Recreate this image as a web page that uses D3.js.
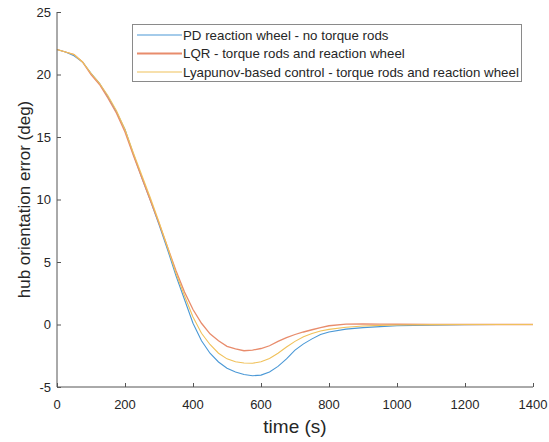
<!DOCTYPE html>
<html>
<head>
<meta charset="utf-8">
<script src="https://cdn.jsdelivr.net/npm/d3@7"></script>
<style>
  body { margin: 0; background: #fff; }
  text { font-family: 'Liberation Sans', Arial, sans-serif; fill: #262626; }
</style>
</head>
<body>
<svg id="chart" width="549" height="442"></svg>
<script>
// sample times (s)
const time = [0, 25, 50, 75, 100, 125, 150, 175, 200, 225, 250, 275, 300, 325, 350, 375,
  400, 425, 450, 475, 500, 525, 550, 575, 600, 625, 650, 675, 700, 725, 750, 775, 800,
  850, 900, 950, 1000, 1100, 1200, 1300, 1400]

// hub orientation error (deg)
const pdWheel = [22.0, 21.8, 21.5, 21.0, 20.1, 19.3, 18.2, 17.0, 15.6, 13.6, 11.7, 9.9, 8.0, 6.0, 3.9, 2.0,
  0.1, -1.3, -2.3, -3.0, -3.5, -3.8, -4.0, -4.1, -4.05, -3.8, -3.35, -2.75, -2.05, -1.55, -1.15, -0.8, -0.6,
  -0.37, -0.25, -0.17, -0.1, -0.05, -0.02, 0, 0]
const lqr = [22.0, 21.8, 21.6, 21.0, 20.0, 19.2, 18.1, 16.9, 15.4, 13.5, 11.7, 9.9, 8.1, 6.2, 4.3, 2.6,
  1.2, 0.1, -0.75, -1.3, -1.75, -1.95, -2.1, -2.05, -1.92, -1.7, -1.35, -1.05, -0.8, -0.6, -0.42, -0.25, -0.1,
  0.03, 0.05, 0.03, 0.02, 0, 0, 0, 0]
const lyapunov = [22.0, 21.8, 21.6, 21.0, 20.1, 19.3, 18.3, 17.1, 15.6, 13.7, 11.9, 10.1, 8.2, 6.2, 4.1, 2.3,
  0.6, -0.7, -1.6, -2.3, -2.75, -2.98, -3.08, -3.1, -2.98, -2.72, -2.3, -1.8, -1.35, -0.98, -0.72, -0.52, -0.39,
  -0.22, -0.12, -0.07, -0.04, -0.01, 0, 0, 0]

const seriesNames = ['PD reaction wheel - no torque rods',
  'LQR - torque rods and reaction wheel',
  'Lyapunov-based control - torque rods and reaction wheel']
const xTicks = [0, 200, 400, 600, 800, 1000, 1200, 1400]
const yTicks = [-5, 0, 5, 10, 15, 20, 25]

const colors = ['#4a98d6', '#e88c6c', '#f0c15a']
const widths = [1.1, 1.3, 1.1]

const svg = d3.select('#chart')
const x = d3.scaleLinear().domain([0, 1400]).range([57, 533])
const y = d3.scaleLinear().domain([-5, 25]).range([387, 12])

const series = [pdWheel, lqr, lyapunov]
const line = d3.line()
  .x((d, i) => x(time[i]))
  .y((d) => y(d))

svg.selectAll('path.series')
  .data(series)
  .enter()
  .append('path')
  .attr('class', 'series')
  .attr('fill', 'none')
  .attr('stroke', (d, i) => colors[i])
  .attr('stroke-width', (d, i) => widths[i])
  .attr('d', line)

// axes, ticks inward like matlab
const gx = svg.append('g').attr('transform', 'translate(0,' + y(-5) + ')')
  .call(d3.axisTop(x).tickValues(xTicks).tickSize(4).tickFormat(''))
gx.select('.domain').remove()
gx.selectAll('line').attr('stroke', '#555')
gx.append('line').attr('x1', x(0)).attr('x2', x(1400)).attr('stroke', '#555')
svg.selectAll('text.xt')
  .data(xTicks)
  .enter()
  .append('text')
  .attr('class', 'xt')
  .attr('x', (d) => x(d))
  .attr('y', y(-5) + 22)
  .attr('text-anchor', 'middle')
  .attr('font-size', 13)
  .text((d) => d)

const gy = svg.append('g').attr('transform', 'translate(' + x(0) + ',0)')
  .call(d3.axisRight(y).tickValues(yTicks).tickSize(4).tickFormat(''))
gy.select('.domain').remove()
gy.selectAll('line').attr('stroke', '#555')
gy.append('line').attr('y1', y(-5)).attr('y2', y(25)).attr('stroke', '#555')
svg.selectAll('text.yt')
  .data(yTicks)
  .enter()
  .append('text')
  .attr('class', 'yt')
  .attr('x', x(0) - 6)
  .attr('y', (d) => y(d) + 4.5)
  .attr('text-anchor', 'end')
  .attr('font-size', 13)
  .text((d) => d)

svg.append('text')
  .attr('x', (x(0) + x(1400)) / 2)
  .attr('y', 433)
  .attr('text-anchor', 'middle')
  .attr('font-size', 19)
  .text('time (s)')

svg.append('text')
  .attr('transform', 'translate(30,' + (y(-5) + y(25)) / 2 + ') rotate(-90)')
  .attr('text-anchor', 'middle')
  .attr('font-size', 17)
  .text('hub orientation error (deg)')

// legend
const lg = svg.append('g')
lg.append('rect')
  .attr('x', 132.5).attr('y', 24.5)
  .attr('width', 389).attr('height', 57)
  .attr('fill', '#fff')
  .attr('stroke', '#8a8a8a')
const rows = lg.selectAll('g.row')
  .data(seriesNames)
  .enter()
  .append('g')
  .attr('class', 'row')
  .attr('transform', (d, i) => 'translate(0,' + (35 + i * 18.5) + ')')
rows.append('line')
  .attr('x1', 137).attr('x2', 182)
  .attr('stroke', (d, i) => colors[i])
  .attr('stroke-width', (d, i) => (i === 1 ? 2 : 1.1))
rows.append('text')
  .attr('x', 183)
  .attr('y', 4.6)
  .attr('font-size', 13.3)
  .text((d) => d)
</script>
</body>
</html>
